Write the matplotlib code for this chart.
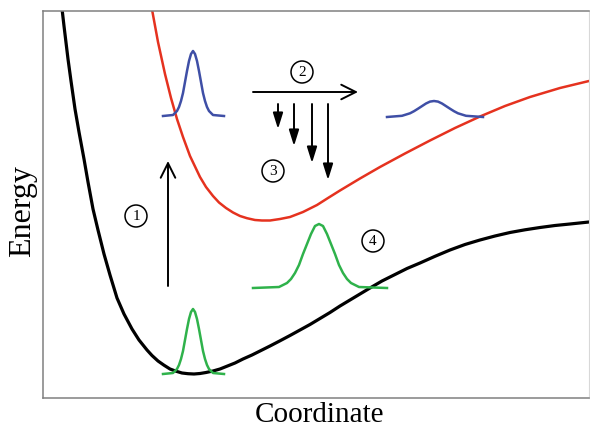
import matplotlib.pyplot as plt

# ground state curve (black), coordinate vs energy
ground_x = [61, 64, 68, 71, 75, 79, 84, 88, 93, 98, 104, 110, 117, 124, 132, 139, 147, 152,
            158, 164, 170, 176, 182, 188, 194, 200, 206, 213, 220, 227, 235, 243, 252, 261,
            270, 280, 290, 300, 310, 320, 330, 340, 350, 360, 370, 382, 395, 407, 420, 435,
            450, 465, 480, 495, 510, 525, 540, 555, 570, 589]
ground_e = [398, 372, 339, 317, 289, 266, 239, 216, 189, 168, 144, 123, 100, 84, 69, 58, 48, 42.5,
            37, 32.8, 29, 26.8, 25, 24.3, 24, 24.5, 25.5, 27, 29, 31.8, 35, 39, 43, 47.5,
            52, 57.2, 62.5, 68, 73.5, 79.5, 85.5, 92, 98, 104, 110, 117, 123.5, 129.5, 135, 141.7,
            148, 153.5, 158, 162, 165.5, 168.2, 170.5, 172.5, 174, 176]

# excited state curve (red)
excited_x = [151, 158, 165, 171, 177, 183, 190, 200, 206, 213, 219, 226, 233, 240, 247, 255,
             262, 270, 280, 290, 303, 317, 328, 340, 360, 380, 405, 430, 455, 480, 505, 530,
             560, 589]
excited_e = [394, 356, 324, 300, 279, 261, 242, 221, 211, 202, 195.5, 190, 185.5, 182, 179.8, 178,
             177.5, 177.5, 179, 181, 186, 193, 200, 207.5, 219.5, 231, 244.5, 257.5, 270, 281.5, 292,
             301, 310, 317]

# wave packets
narrow_x = [163, 173, 177, 179, 181, 183, 185, 187, 189, 191, 193, 195, 197, 199, 201,
            203, 205, 207, 209, 213, 224]
green_low_e = [24, 25, 29, 33, 39, 47, 58, 69, 79, 86, 89, 86, 79, 69, 58, 47, 39, 33, 29, 25, 24]
blue_high_e = [282, 283, 287, 291, 297, 305, 316, 327, 337, 344, 347, 344, 337, 327, 316,
               305, 297, 291, 287, 283, 282]

green_wide_x = [253, 279, 287, 291, 295, 299, 303, 307, 311, 315, 319, 323, 327, 331, 335,
                339, 343, 347, 351, 359, 387]
green_wide_e = [110, 111, 115, 119, 125, 133, 144, 154, 164, 172, 174, 172, 164, 154, 144,
                133, 125, 119, 115, 111, 110]

blue_wide_x = [387, 402, 410, 414, 418, 422, 426, 430, 434, 438, 442, 446, 450, 454, 458, 466, 483]
blue_wide_e = [281, 282.2, 284.7, 286.8, 289.3, 291.9, 294.5, 296.4, 297, 296.4, 294.5,
               291.9, 289.3, 286.8, 284.7, 282.2, 281]

# arrows: (x_tail, e_tail, x_tip, e_tip)
excite_arrow = (168, 112, 168, 237)
move_arrow = (253, 306, 358, 306)
emit_x = [278, 294, 312, 328]
emit_top = 294
emit_bottom = [269, 252, 235, 218]

# circled step numbers
step_labels = ['1', '2', '3', '4']
step_x = [136, 302, 273, 373]
step_e = [182, 326, 227, 157]

RED = '#e5321f'
BLUE = '#3f4fa6'
GREEN = '#2fb24b'

fig = plt.figure(figsize=(5.9, 4.27), dpi=100)
ax = fig.add_axes([43 / 590, 28 / 427, 546 / 590, 387 / 427])

ax.plot(ground_x, ground_e, color='black', lw=2.3, solid_joinstyle='round')
ax.plot(excited_x, excited_e, color=RED, lw=1.8, solid_joinstyle='round')
ax.plot(narrow_x, green_low_e, color=GREEN, lw=1.8)
ax.plot(narrow_x, blue_high_e, color=BLUE, lw=1.8)
ax.plot(green_wide_x, green_wide_e, color=GREEN, lw=1.8)
ax.plot(blue_wide_x, blue_wide_e, color=BLUE, lw=1.8)

open_head = dict(arrowstyle='->,head_length=0.7,head_width=0.35', lw=1.4, color='black',
                 shrinkA=0, shrinkB=0, mutation_scale=15)
for x0, e0, x1, e1 in [excite_arrow, move_arrow]:
    ax.annotate('', xy=(x1, e1), xytext=(x0, e0), arrowprops=open_head)

solid_head = dict(arrowstyle='-|>,head_length=0.8,head_width=0.25', lw=1.4, color='black',
                  shrinkA=0, shrinkB=0, mutation_scale=12)
for x, eb in zip(emit_x, emit_bottom):
    ax.annotate('', xy=(x, eb), xytext=(x, emit_top), arrowprops=solid_head)

ax.scatter(step_x, step_e, s=250, facecolors='none', edgecolors='black', linewidths=1.1, zorder=3)
for lab, x, e in zip(step_labels, step_x, step_e):
    ax.text(x, e, lab, ha='center', va='center', fontsize=11, family='Liberation Serif')

ax.set_xlim(43, 589)
ax.set_ylim(0, 387)
ax.set_xticks([])
ax.set_yticks([])
for side in ['left', 'bottom', 'top']:
    ax.spines[side].set_color('#808080')
    ax.spines[side].set_linewidth(1.1)
ax.spines['right'].set_color('#d8d8d8')
ax.spines['right'].set_linewidth(0.8)

fig.text(320 / 590, 5 / 427, 'Coordinate', ha='center', va='baseline',
         fontsize=21, family='Liberation Serif')
fig.text(23 / 590, 1 - 211 / 427, 'Energy', ha='center', va='center', rotation=90,
         fontsize=23, family='Liberation Serif')

fig.savefig('out.png', dpi=100)
